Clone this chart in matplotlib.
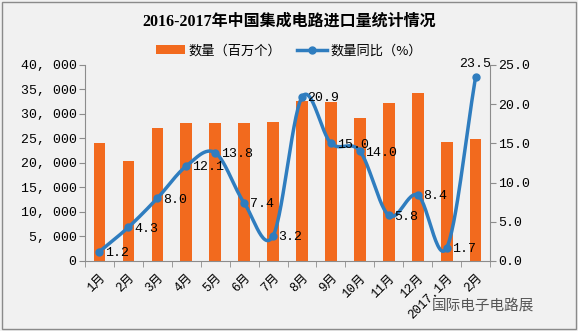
import numpy as np
import matplotlib.pyplot as plt
from matplotlib.patches import Rectangle

plt.rcParams['font.family'] = ['Noto Sans CJK SC', 'DejaVu Sans']
mono = ['Liberation Mono', 'Noto Sans CJK SC']

months = ['1月', '2月', '3月', '4月', '5月', '6月', '7月', '8月', '9月',
          '10月', '11月', '12月', '2017.1月', '2月']
quantity = [24100, 20300, 27200, 28200, 28200, 28200, 28400,
            32700, 32500, 29200, 32300, 34200, 24300, 24900]
yoy = [1.2, 4.3, 8.0, 12.1, 13.8, 7.4, 3.2, 20.9, 15.0, 14.0, 5.8, 8.4, 1.7, 23.5]

bar_color = '#f26a1e'
line_color = '#2f7dbf'


def smooth(x, y, n=30):
    # Catmull-Rom spline through the points, like a smoothed line in a spreadsheet
    x = np.asarray(x, float)
    y = np.asarray(y, float)
    px = np.concatenate([[2 * x[0] - x[1]], x, [2 * x[-1] - x[-2]]])
    py = np.concatenate([[2 * y[0] - y[1]], y, [2 * y[-1] - y[-2]]])
    xs, ys = [], []
    for i in range(1, len(px) - 2):
        t = np.linspace(0, 1, n)
        for arr, out in ((px, xs), (py, ys)):
            p0, p1, p2, p3 = arr[i - 1], arr[i], arr[i + 1], arr[i + 2]
            out.append(0.5 * ((2 * p1) + (-p0 + p2) * t
                              + (2 * p0 - 5 * p1 + 4 * p2 - p3) * t ** 2
                              + (-p0 + 3 * p1 - 3 * p2 + p3) * t ** 3))
    return np.concatenate(xs), np.concatenate(ys)


fig = plt.figure(figsize=(5.78, 3.31), dpi=100, facecolor='#f1f1f1')
fig.patches.append(Rectangle((0.004, 0.006), 0.992, 0.988, transform=fig.transFigure,
                             fill=False, edgecolor='#8a8a8a', linewidth=1))

ax = fig.add_axes([0.147, 0.2115, 0.701, 0.5925])
ax.set_facecolor('none')
x = np.arange(len(months))
bars = ax.bar(x, quantity, width=0.4, color=bar_color, label='数量（百万个）', zorder=2)
ax.set_xlim(-0.5, len(months) - 0.5)
ax.set_ylim(0, 40000)
ax.set_yticks(np.arange(0, 40001, 5000))
ax.set_yticklabels([f'{v:,}'.replace(',', ', ') for v in range(0, 40001, 5000)],
                   fontsize=9.5, family=mono)
ax.set_xticks(x)
ax.set_xticklabels(months, rotation=45, ha='right', rotation_mode='anchor',
                   fontsize=9, family=mono)
ax.set_xticks(np.arange(-0.5, len(months)), minor=True)
ax.tick_params(axis='x', which='major', length=0, pad=8)
ax.tick_params(axis='x', which='minor', length=4, color='#8c8c8c')
ax.tick_params(axis='y', length=4, color='#8c8c8c', pad=2)
for s in ['top', 'right']:
    ax.spines[s].set_visible(False)
for s in ['left', 'bottom']:
    ax.spines[s].set_color('#8c8c8c')

ax2 = ax.twinx()
ax2.set_ylim(0, 25)
ax2.set_yticks(np.arange(0, 25.1, 5))
ax2.set_yticklabels([f'{v:.1f}' for v in np.arange(0, 25.1, 5)], fontsize=9.5, family=mono)
ax2.tick_params(axis='y', length=4, color='#8c8c8c', pad=2)
for s in ['top', 'left', 'bottom']:
    ax2.spines[s].set_visible(False)
ax2.spines['right'].set_color('#8c8c8c')

sx, sy = smooth(x, yoy)
ax2.plot(sx, sy, color=line_color, linewidth=2.5, zorder=3)
ax2.plot(x, yoy, 'o', color=line_color, markersize=5, zorder=4)
line_handle, = ax2.plot([], [], '-o', color=line_color, linewidth=2.5, markersize=5,
                        label='数量同比（%）')

for xi, v in zip(x, yoy):
    if xi == len(x) - 1:
        ax2.annotate(f'{v:.1f}', (xi, v), xytext=(-12, 5), textcoords='offset points',
                     fontsize=9.5, va='bottom', ha='left', family=mono)
    else:
        ax2.annotate(f'{v:.1f}', (xi, v), xytext=(4, -1), textcoords='offset points',
                     fontsize=9.5, va='center', ha='left', family=mono)

fig.legend(handles=[bars, line_handle], loc='center', bbox_to_anchor=(0.5, 0.847),
           ncol=2, frameon=False, fontsize=9.5, handlelength=2.2, columnspacing=1.2,
           handletextpad=0.3)
fig.text(0.5, 0.935, '2016-2017年中国集成电路进口量统计情况', ha='center', va='center',
         fontsize=11.5, fontweight='bold', family=['Liberation Serif', 'Noto Sans CJK SC'])
fig.text(0.835, 0.075, '国际电子电路展', ha='center', va='center', fontsize=10.5,
         color='#555555')

fig.savefig('out.png', dpi=100, facecolor=fig.get_facecolor())
